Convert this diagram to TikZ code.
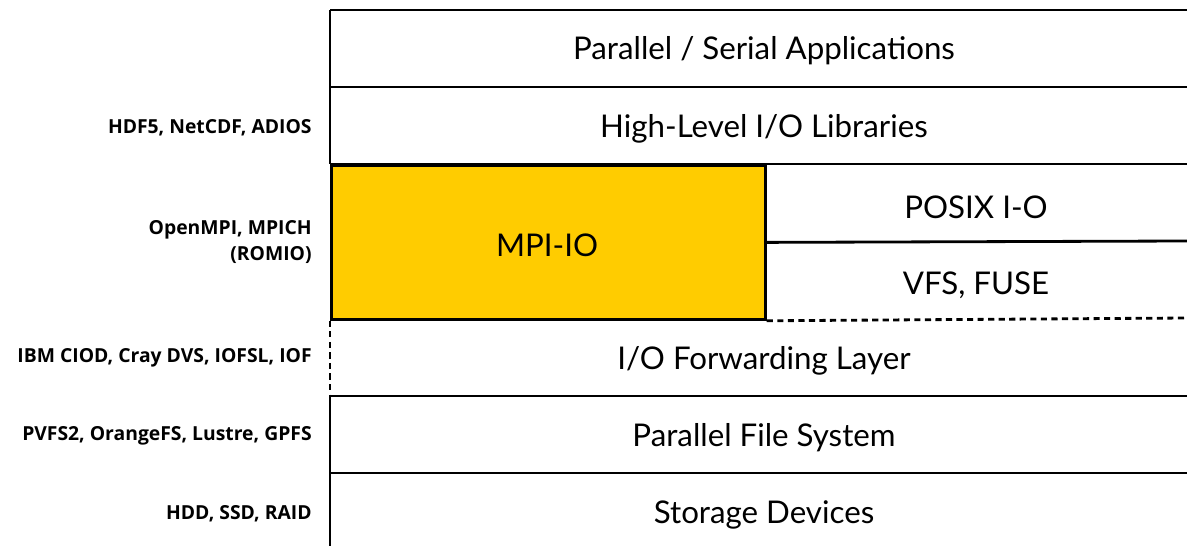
\documentclass[tikz,border=0pt]{standalone}
\usepackage{fontspec}
\setmainfont{Lato}
\newfontfamily\labelfont{Open Sans}
\usepackage{xcolor}
\usetikzlibrary{positioning}
\definecolor{mpiyellow}{HTML}{FFCC00}

\tikzset{
    layer/.style={font=\fontsize{17.8}{21}\selectfont, inner sep=0pt},
    tag/.style={font=\labelfont\bfseries\fontsize{11}{14.5}\selectfont, anchor=east, align=right, inner sep=0pt},
    rule/.style={line width=1.6pt},
    dashrule/.style={line width=1.6pt, dash pattern=on 3.5pt off 2.5pt},
}

\begin{document}
\begin{tikzpicture}[x=0.02cm, y=-0.02cm]
    \useasboundingbox (0,0) rectangle (1187,546);

    % MPI-IO block
    \node[rule, draw, fill=mpiyellow, minimum width=8.68cm, minimum height=3.08cm,
          anchor=north west, inner sep=0pt] (mpi) at (330,164) {};
    \node[layer] (mpitext) at (547,245) {MPI-IO};

    % Layer texts
    \node[layer] (app) at (764,51) {Parallel / Serial Applications};
    \node[layer] (hll) at (764,129) {High-Level I/O Libraries};
    \node[layer] (posix) at (976,207) {POSIX I-O};
    \node[layer] (vfs) at (976,285) {VFS, FUSE};
    \node[layer] (fwd) at (764,361) {I/O Forwarding Layer};
    \node[layer] (pfs) at (764,438) {Parallel File System};
    \node[layer] (dev) at (764,515) {Storage Devices};

    % Side labels
    \node[tag] (hllex) at (312,128) {HDF5, NetCDF, ADIOS};
    \node[tag] (mpiex) at (312,242) {OpenMPI, MPICH\\(ROMIO)};
    \node[tag] (fwdex) at (312,358) {IBM CIOD, Cray DVS, IOFSL, IOF};
    \node[tag] (pfsex) at (312,436) {PVFS2, OrangeFS, Lustre, GPFS};
    \node[tag] (devex) at (312,514) {HDD, SSD, RAID};

    % Layer borders
    \foreach \y in {10, 87, 164, 396, 473} {
        \draw[rule] (330,\y) -- (1187,\y);
    }
    \draw[rule] (mpi.east) -- (1187,241);
    \draw[dashrule] (mpi.south east) -- (1187,318);
    \draw[rule] (330,10) -- (mpi.north west);
    \draw[dashrule] (mpi.south west) -- (330,396);
    \draw[rule] (330,396) -- (330,546);
\end{tikzpicture}
\end{document}
